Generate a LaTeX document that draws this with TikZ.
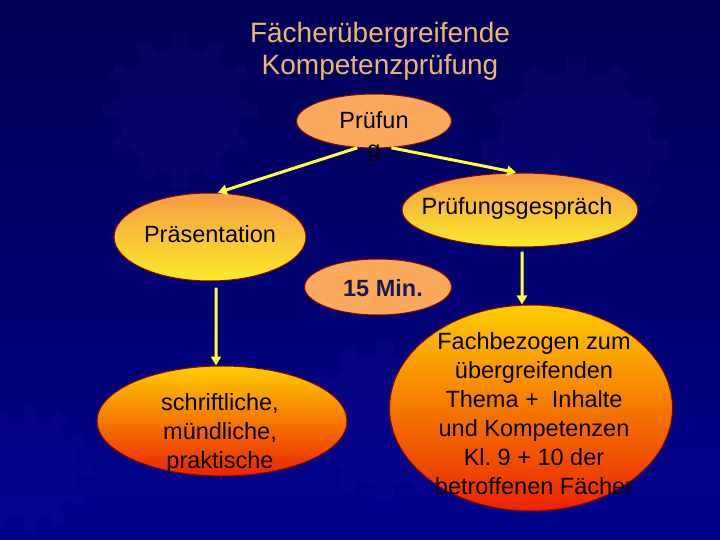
\documentclass[tikz,border=0pt]{standalone}
\usepackage{fontspec}
\setmainfont{Liberation Sans}
\usetikzlibrary{arrows.meta,shapes.geometric}

\definecolor{titleorange}{RGB}{242,180,115}
\definecolor{paleorange}{RGB}{250,170,90}
\definecolor{deeporange}{RGB}{247,155,70}
\definecolor{lemon}{RGB}{250,235,40}
\definecolor{goldtop}{RGB}{255,205,0}
\definecolor{midorange}{RGB}{250,150,0}
\definecolor{redbottom}{RGB}{235,35,0}
\definecolor{rim}{RGB}{140,0,0}
\definecolor{arrowyellow}{RGB}{255,255,60}
\definecolor{navytop}{RGB}{0,0,85}
\definecolor{navybottom}{RGB}{0,0,140}
\definecolor{gearblue}{RGB}{60,60,200}
\definecolor{mintext}{RGB}{25,25,80}

\begin{document}
\begin{tikzpicture}[
                x=1bp, y=-1bp,
                bubble/.style={ellipse, draw=rim, line width=1bp, inner sep=0pt},
                plain/.style={bubble, fill=paleorange},
                warm/.style={bubble, top color=deeporange, bottom color=lemon},
                hot/.style={bubble, top color=goldtop, middle color=midorange, bottom color=redbottom},
                txt/.style={anchor=base, align=center, inner sep=0pt,
                            font=\fontsize{23.5bp}{29bp}\selectfont},
                arr/.style={draw=arrowyellow, line width=3bp,
                            -{Triangle[length=9bp,width=10bp]}},
                gearfill/.style={fill=gearblue, opacity=0.07}
                ]
                \useasboundingbox (0,0) rectangle (720,540);
                \fill[top color=navytop, bottom color=navybottom] (0,0) rectangle (720,540);

                % faint gears in the background
                \foreach \cx/\cy/\r in {180/110/62, 575/150/78, 385/420/66, 30/470/48}{
                  \fill[gearfill, shift={(\cx,\cy)}] (0,0) circle (\r)
                    \foreach \a in {0,30,...,330}{
                      (\a-8:\r-4) -- (\a-6:\r+16) -- (\a+6:\r+16) -- (\a+8:\r-4) -- cycle};
                }

                % title (base = last line)
                \node (title) [txt, text=titleorange, font=\fontsize{28bp}{32bp}\selectfont]
                      at (380,75) {Fächerübergreifende\\Kompetenzprüfung};

                % the ellipses
                \node (pr) [plain, minimum width=155bp, minimum height=54bp] at (374,121) {};
                \node (pres) [warm, minimum width=192bp, minimum height=88bp] at (210,237) {};
                \node (gesp) [warm, minimum width=236bp, minimum height=74bp] at (520,210) {};
                \node (min) [plain, minimum width=147bp, minimum height=56bp] at (378,287) {};
                \node (schr) [hot, minimum width=250bp, minimum height=110bp] at (222,421) {};
                \node (fach) [hot, minimum width=283bp, minimum height=206bp] at (531,408) {};

                % the texts
                \node (prtxt) [txt] at (374,158) {Prüfun\\g};
                \node (prestxt) [txt] at (210,243) {Präsentation};
                \node (gesptxt) [txt] at (517,215) {Prüfungsgespräch};
                \node (mintxt) [txt, text=mintext, font=\fontsize{23.5bp}{29bp}\bfseries] at (383,296) {15 Min.};
                \node (schrtxt) [txt] at (220,468) {schriftliche,\\mündliche,\\praktische};
                \node (fachtxt) [txt] at (534,494) {Fachbezogen zum\\übergreifenden\\Thema +\ \ Inhalte\\und Kompetenzen\\Kl.\ 9 + 10 der\\betroffenen Fächer};

                % the arrows
                \draw[arr] (pr.238) -- (pres.80);
                \draw[arr] (pr.-57) -- (gesp.96);
                \draw[arr, shorten <=6bp] ([xshift=6bp]pres.south) -- ([xshift=-6bp]schr.north);
                \draw[arr, shorten <=4bp] ([xshift=2bp]gesp.south) -- ([xshift=-9bp]fach.north);
\end{tikzpicture}
\end{document}
